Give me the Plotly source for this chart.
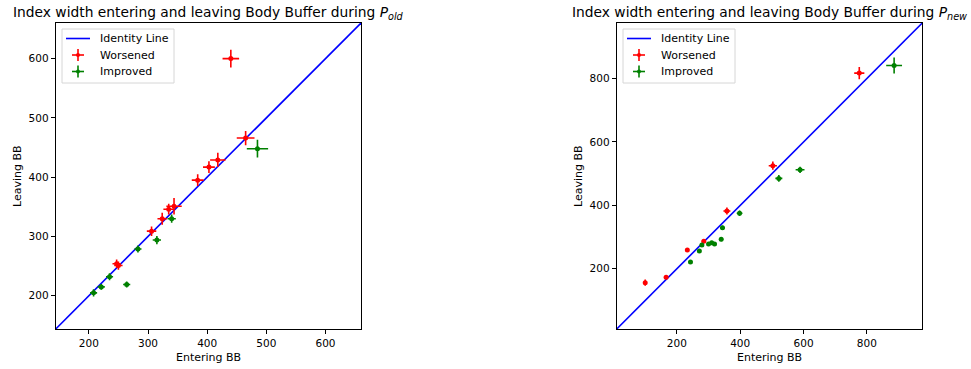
import plotly.graph_objects as go

# ---------------- data ----------------
# P_old panel
old_w_x = [440, 465, 418, 403, 384, 344, 335, 324, 306, 247, 250]
old_w_y = [600, 466, 429, 417, 395, 351, 346, 330, 309, 254, 251]
old_w_ex = [14, 15, 13, 10, 10, 13, 9, 8, 8, 7, 7]
old_w_ey = [15, 12, 12, 10, 10, 14, 9, 10, 8, 7, 7]

old_i_x = [485, 340, 315, 283, 264, 235, 221, 208]
old_i_y = [448, 330, 294, 279, 219, 232, 215, 205]
old_i_ex = [18, 7, 7, 6, 6, 6, 6, 6]
old_i_ey = [15, 7, 7, 6, 5, 6, 5, 6]

# P_new panel
new_w_x = [776, 503, 358, 285, 233, 166, 100]
new_w_y = [817, 525, 382, 287, 259, 173, 156]
new_w_ex = [16, 13, 11, 6, 5, 5, 3]
new_w_ey = [19, 13, 11, 6, 5, 4, 10]

new_i_x = [886, 589, 522, 398, 344, 340, 319, 310, 300, 279, 271, 243]
new_i_y = [841, 512, 485, 375, 329, 293, 278, 282, 278, 275, 256, 221]
new_i_ex = [25, 14, 11, 9, 7, 6, 5, 5, 5, 5, 5, 4]
new_i_ey = [25, 10, 11, 9, 7, 6, 5, 5, 5, 5, 5, 4]

old_lim = [144, 660]
new_lim = [10, 975]
old_ticks = [200, 300, 400, 500, 600]
new_ticks = [200, 400, 600, 800]
legend_labels = ["Identity Line", "Worsened", "Improved"]
x_title = "Entering BB"
y_title = "Leaving BB"

RED = "#ff0000"
GREEN = "#008000"
BLUE = "#0000ff"
FONT = "DejaVu Sans"
W, H = 971, 369

fig = go.Figure()
shapes = []
annotations = []


def px(x):
    return x / W


def py(y):
    return (H - y) / H


def add_legend(x0):
    shapes.append(dict(type="rect", xref="paper", yref="paper",
                       x0=px(x0), x1=px(x0 + 112), y0=py(29), y1=py(83),
                       line=dict(color="#d6d6d6", width=1), fillcolor="rgba(255,255,255,0.8)",
                       layer="above"))
    ys = [38.5, 55, 71.5]
    colors = [BLUE, RED, GREEN]
    shapes.append(dict(type="line", xref="paper", yref="paper",
                       x0=px(x0 + 4), x1=px(x0 + 28), y0=py(ys[0]), y1=py(ys[0]),
                       line=dict(color=BLUE, width=1.6), layer="above"))
    cx = x0 + 16
    for yy, c in zip(ys[1:], colors[1:]):
        shapes.append(dict(type="line", xref="paper", yref="paper",
                           x0=px(cx - 6), x1=px(cx + 6), y0=py(yy), y1=py(yy),
                           line=dict(color=c, width=1.6), layer="above"))
        shapes.append(dict(type="line", xref="paper", yref="paper",
                           x0=px(cx), x1=px(cx), y0=py(yy - 6), y1=py(yy + 6),
                           line=dict(color=c, width=1.6), layer="above"))
        shapes.append(dict(type="circle", xref="paper", yref="paper",
                           x0=px(cx - 2), x1=px(cx + 2), y0=py(yy - 2), y1=py(yy + 2),
                           line=dict(color=c, width=0), fillcolor=c, layer="above"))
    for yy, t in zip(ys, legend_labels):
        annotations.append(dict(text=t, x=px(x0 + 36), y=py(yy), xref="paper", yref="paper",
                                xanchor="left", yanchor="middle", showarrow=False,
                                font=dict(family=FONT, size=11, color="black")))


def add_axis_titles(xcenter, ytitle_x):
    annotations.append(dict(text=x_title, x=px(xcenter), y=py(357), xref="paper", yref="paper",
                            xanchor="center", yanchor="middle", showarrow=False,
                            font=dict(family=FONT, size=11, color="black")))
    annotations.append(dict(text=y_title, x=px(ytitle_x), y=py(176), xref="paper", yref="paper",
                            xanchor="center", yanchor="middle", showarrow=False, textangle=-90,
                            font=dict(family=FONT, size=11, color="black")))


def add_panel(xa, ya, lim, wx, wy, wex, wey, ix, iy, iex, iey):
    fig.add_trace(go.Scatter(x=lim, y=lim, mode="lines", line=dict(color=BLUE, width=1.6),
                             name=legend_labels[0], xaxis=xa, yaxis=ya, showlegend=False))
    for (x, y, ex, ey, c, nm) in [(wx, wy, wex, wey, RED, legend_labels[1]),
                                  (ix, iy, iex, iey, GREEN, legend_labels[2])]:
        fig.add_trace(go.Scatter(
            x=x, y=y, mode="markers", name=nm,
            marker=dict(color=c, size=5, symbol="circle"),
            error_x=dict(type="data", array=ex, width=0, thickness=1.6, color=c),
            error_y=dict(type="data", array=ey, width=0, thickness=1.6, color=c),
            xaxis=xa, yaxis=ya, showlegend=False))


add_panel("x", "y", old_lim, old_w_x, old_w_y, old_w_ex, old_w_ey,
          old_i_x, old_i_y, old_i_ex, old_i_ey)
add_panel("x2", "y2", new_lim, new_w_x, new_w_y, new_w_ex, new_w_ey,
          new_i_x, new_i_y, new_i_ex, new_i_ey)
add_legend(62)
add_legend(623)
add_axis_titles((55.7 + 361) / 2, 17)
add_axis_titles((616.7 + 922.3) / 2, 578)

ydom = [py(329), py(23)]
ax_common = dict(showgrid=False, zeroline=False, showline=True, linecolor="black", linewidth=1,
                 mirror=True, ticks="outside", ticklen=4, tickwidth=1, tickcolor="black",
                 automargin=False,
                 tickfont=dict(family=FONT, size=10.5, color="black"))

fig.update_layout(
    width=W, height=H, margin=dict(l=0, r=0, t=0, b=0),
    paper_bgcolor="white", plot_bgcolor="white", showlegend=False,
    font=dict(family=FONT, color="black"),
    xaxis=dict(domain=[px(55.7), px(361)], range=old_lim, tickvals=old_ticks, anchor="y", **ax_common),
    yaxis=dict(domain=ydom, range=old_lim, tickvals=old_ticks, anchor="x", **ax_common),
    xaxis2=dict(domain=[px(616.7), px(922.3)], range=new_lim, tickvals=new_ticks, anchor="y2", **ax_common),
    yaxis2=dict(domain=ydom, range=new_lim, tickvals=new_ticks, anchor="x2", **ax_common),
    shapes=shapes,
    annotations=annotations + [
        dict(text="Index width entering and leaving Body Buffer during <i>P</i><sub><i>old</i></sub>",
             x=px((55.7 + 361) / 2), y=py(2), xref="paper", yref="paper",
             xanchor="center", yanchor="top", showarrow=False, font=dict(family=FONT, size=13.8)),
        dict(text="Index width entering and leaving Body Buffer during <i>P</i><sub><i>new</i></sub>",
             x=px((616.7 + 922.3) / 2), y=py(2), xref="paper", yref="paper",
             xanchor="center", yanchor="top", showarrow=False, font=dict(family=FONT, size=13.8)),
    ],
)

fig.write_html("out.html", config={"displayModeBar": False},
               post_script="document.body.style.margin='0';document.body.style.padding='0';")
